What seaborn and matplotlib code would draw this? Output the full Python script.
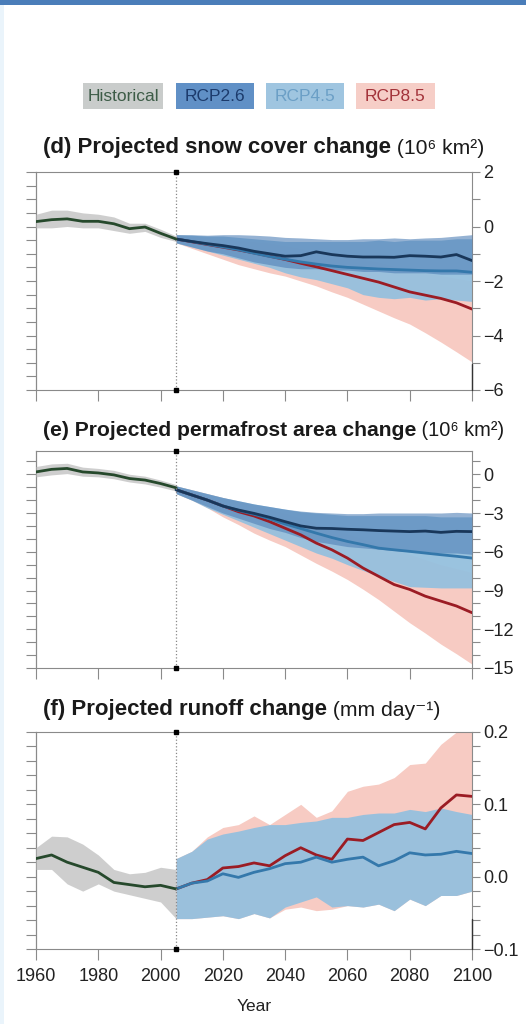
import numpy as np
import pandas as pd
import matplotlib
matplotlib.use("Agg")
import matplotlib.pyplot as plt
from matplotlib import font_manager
from matplotlib.patches import Rectangle
from matplotlib.ticker import MultipleLocator
import seaborn as sns

# ---------------- data ----------------
hist_years = list(range(1960, 2006, 5))
fut_years = list(range(2005, 2101, 5))

# (d) snow cover change (10^6 km^2)
snow_hist = [0.18, 0.25, 0.28, 0.19, 0.19, 0.10, -0.08, -0.02, -0.25, -0.46]
snow_hist_hi = [0.45, 0.60, 0.60, 0.50, 0.45, 0.35, 0.12, 0.12, -0.10, -0.35]
snow_hist_lo = [-0.05, -0.05, 0.00, -0.05, -0.05, -0.15, -0.25, -0.18, -0.40, -0.55]
snow_26 = [-0.46, -0.55, -0.63, -0.70, -0.79, -0.91, -1.00, -1.09, -1.07, -0.93,
           -1.03, -1.09, -1.12, -1.12, -1.13, -1.07, -1.09, -1.12, -1.03, -1.25]
snow_26_hi = [-0.30, -0.30, -0.32, -0.30, -0.30, -0.32, -0.35, -0.40, -0.42, -0.45,
              -0.48, -0.48, -0.45, -0.45, -0.42, -0.45, -0.42, -0.40, -0.35, -0.30]
snow_26_lo = [-0.60, -0.75, -0.90, -1.00, -1.15, -1.30, -1.40, -1.50, -1.55, -1.55,
              -1.60, -1.60, -1.65, -1.65, -1.70, -1.70, -1.70, -1.75, -1.75, -1.75]
snow_45 = [-0.46, -0.55, -0.65, -0.75, -0.85, -0.98, -1.10, -1.20, -1.30, -1.38,
           -1.45, -1.50, -1.53, -1.56, -1.58, -1.60, -1.62, -1.63, -1.63, -1.68]
snow_45_hi = [-0.30, -0.32, -0.35, -0.35, -0.40, -0.45, -0.50, -0.55, -0.55, -0.55,
              -0.55, -0.55, -0.55, -0.50, -0.55, -0.50, -0.50, -0.50, -0.45, -0.45]
snow_45_lo = [-0.60, -0.75, -0.90, -1.05, -1.20, -1.35, -1.50, -1.70, -1.85, -1.95,
              -2.10, -2.25, -2.50, -2.60, -2.65, -2.60, -2.70, -2.65, -2.70, -2.75]
snow_85 = [-0.46, -0.56, -0.66, -0.76, -0.86, -0.97, -1.09, -1.21, -1.35, -1.48,
           -1.62, -1.76, -1.90, -2.04, -2.22, -2.40, -2.52, -2.64, -2.80, -3.03]
snow_85_hi = [-0.30, -0.35, -0.40, -0.45, -0.50, -0.55, -0.60, -0.70, -0.80, -0.90,
              -1.00, -1.10, -1.20, -1.30, -1.45, -1.60, -1.70, -1.80, -1.90, -2.00]
snow_85_lo = [-0.60, -0.80, -1.00, -1.20, -1.40, -1.55, -1.70, -1.82, -2.00, -2.18,
              -2.40, -2.60, -2.85, -3.10, -3.35, -3.58, -3.90, -4.24, -4.60, -4.97]

# (e) permafrost area change (10^6 km^2)
perm_hist = [0.18, 0.38, 0.45, 0.18, 0.10, -0.05, -0.33, -0.45, -0.72, -1.05]
perm_hist_hi = [0.60, 0.80, 0.85, 0.55, 0.45, 0.30, 0.00, -0.15, -0.45, -0.80]
perm_hist_lo = [-0.20, -0.05, 0.05, -0.15, -0.20, -0.35, -0.60, -0.75, -1.00, -1.30]
perm_26 = [-1.20, -1.60, -2.00, -2.46, -2.77, -3.03, -3.33, -3.67, -4.00, -4.18,
           -4.20, -4.26, -4.30, -4.36, -4.40, -4.44, -4.40, -4.50, -4.42, -4.44]
perm_26_hi = [-0.90, -1.20, -1.50, -1.80, -2.05, -2.30, -2.50, -2.70, -2.85, -2.95,
              -3.00, -3.05, -3.05, -3.00, -3.00, -3.00, -3.00, -3.00, -2.95, -3.00]
perm_26_lo = [-1.50, -2.00, -2.50, -3.00, -3.40, -3.80, -4.20, -4.50, -4.90, -5.20,
              -5.40, -5.60, -5.70, -5.80, -5.90, -6.00, -6.00, -6.10, -6.10, -6.20]
perm_45 = [-1.20, -1.60, -2.00, -2.45, -2.80, -3.10, -3.45, -3.85, -4.20, -4.56,
           -4.90, -5.20, -5.45, -5.72, -5.85, -5.97, -6.10, -6.23, -6.35, -6.49]
perm_45_hi = [-0.90, -1.20, -1.50, -1.80, -2.05, -2.30, -2.50, -2.70, -2.90, -3.00,
              -3.10, -3.20, -3.20, -3.20, -3.20, -3.20, -3.20, -3.30, -3.30, -3.30]
perm_45_lo = [-1.50, -2.00, -2.60, -3.10, -3.60, -4.10, -4.60, -5.10, -5.60, -6.10,
              -6.50, -7.00, -7.45, -7.90, -8.30, -8.70, -8.75, -8.80, -8.80, -8.80]
perm_85 = [-1.20, -1.60, -2.00, -2.45, -2.90, -3.23, -3.67, -4.18, -4.69, -5.33,
           -5.85, -6.49, -7.26, -7.90, -8.54, -8.92, -9.44, -9.82, -10.20, -10.72]
perm_85_hi = [-0.90, -1.20, -1.50, -1.80, -2.10, -2.40, -2.70, -3.00, -3.40, -3.80,
              -4.20, -4.60, -5.00, -5.40, -5.80, -6.20, -6.60, -7.00, -7.30, -7.60]
perm_85_lo = [-1.50, -2.00, -2.60, -3.30, -3.90, -4.56, -5.10, -5.60, -6.25, -6.90,
              -7.50, -8.15, -8.90, -9.70, -10.60, -11.50, -12.30, -13.15, -13.90, -14.70]

# (f) runoff change (mm day^-1)
run_hist = [0.025, 0.030, 0.020, 0.013, 0.006, -0.008, -0.011, -0.014, -0.012, -0.017]
run_hist_hi = [0.040, 0.056, 0.055, 0.045, 0.030, 0.010, 0.004, 0.006, 0.013, 0.010]
run_hist_lo = [0.010, 0.010, -0.010, -0.020, -0.010, -0.020, -0.025, -0.030, -0.035, -0.058]
run_45 = [-0.017, -0.009, -0.006, 0.004, -0.001, 0.006, 0.011, 0.018, 0.020, 0.027,
          0.020, 0.024, 0.027, 0.015, 0.022, 0.033, 0.030, 0.031, 0.035, 0.032]
run_45_hi = [0.025, 0.035, 0.052, 0.059, 0.063, 0.068, 0.072, 0.072, 0.075, 0.077,
             0.082, 0.082, 0.086, 0.088, 0.088, 0.093, 0.090, 0.095, 0.090, 0.086]
run_45_lo = [-0.058, -0.058, -0.056, -0.054, -0.058, -0.051, -0.057, -0.042, -0.035, -0.028,
             -0.042, -0.040, -0.042, -0.038, -0.047, -0.031, -0.040, -0.026, -0.026, -0.020]
run_85 = [-0.017, -0.009, -0.004, 0.012, 0.014, 0.019, 0.015, 0.029, 0.040, 0.030,
          0.024, 0.052, 0.050, 0.061, 0.072, 0.075, 0.066, 0.095, 0.113, 0.111]
run_85_hi = [0.025, 0.035, 0.055, 0.068, 0.072, 0.084, 0.072, 0.086, 0.100, 0.082,
             0.091, 0.118, 0.125, 0.128, 0.137, 0.155, 0.157, 0.183, 0.200, 0.205]
run_85_lo = [-0.058, -0.058, -0.056, -0.054, -0.058, -0.051, -0.057, -0.045, -0.042, -0.047,
             -0.045, -0.040, -0.042, -0.038, -0.047, -0.031, -0.040, -0.026, -0.026, -0.020]

legend_labels = ["Historical", "RCP2.6", "RCP4.5", "RCP8.5"]
x_ticks = [1960, 1980, 2000, 2020, 2040, 2060, 2080, 2100]

# ---------------- style ----------------
sns.set_theme(style="white")
avail = {f.name for f in font_manager.fontManager.ttflist}
base_font = "Liberation Sans Narrow" if "Liberation Sans Narrow" in avail else "Liberation Sans"
plt.rcParams["font.family"] = [base_font, "DejaVu Sans"]

C_HIST_BAND = "#c6c6c6"
C_HIST_LINE = "#26492c"
C_26_BAND = "#4f80b6"
C_26_LINE = "#19375a"
C_45_BAND = "#95c0de"
C_45_LINE = "#3478ab"
C_85_BAND = "#f7cbc3"
C_85_LINE = "#9b1c24"
GRID = "#8a8a8a"

fig = plt.figure(figsize=(5.26, 10.24), dpi=100)

# decoration: top bar and left strip
fig.patches.append(Rectangle((0, 1 - 5 / 1024), 1, 5 / 1024, transform=fig.transFigure,
                             facecolor="#4a7db9", edgecolor="none", zorder=0))
fig.patches.append(Rectangle((0, 0), 4 / 526, 1 - 5 / 1024, transform=fig.transFigure,
                             facecolor="#eaf4fb", edgecolor="none", zorder=0))

# legend boxes
leg_boxes = [(83, 163, "#c9cccb", "#3d5c47"), (176, 254, "#6090c6", "#1c3b6c"),
             (266, 344, "#9fc5e0", "#6b9fc6"), (356, 435, "#f6cec7", "#a3333a")]
for lab, (x0, x1, fc, tc) in zip(legend_labels, leg_boxes):
    fig.patches.append(Rectangle((x0 / 526, 1 - 109 / 1024), (x1 - x0) / 526, 26 / 1024,
                                 transform=fig.transFigure, facecolor=fc, edgecolor="none"))
    fig.text((x0 + x1) / 2 / 526, 1 - 96.5 / 1024, lab, ha="center", va="center",
             fontsize=12.5, color=tc)

L, R = 36 / 526, 472 / 526
panels = [
    dict(top=172, bot=390, ylim=(-6, 2), major=2, rminor=1, lminor=0.5,
         title="(d) Projected snow cover change", unit=" (10\u2076 km\u00b2)", ty=148, fs=16,
         hist=(snow_hist, snow_hist_lo, snow_hist_hi),
         r26=(snow_26, snow_26_lo, snow_26_hi), r45=(snow_45, snow_45_lo, snow_45_hi),
         r85=(snow_85, snow_85_lo, snow_85_hi), accent=0.12),
    dict(top=451, bot=668, ylim=(-15, 1.8), major=3, rminor=1, lminor=1,
         title="(e) Projected permafrost area change", unit=" (10\u2076 km\u00b2)", ty=430, fs=15.2,
         hist=(perm_hist, perm_hist_lo, perm_hist_hi),
         r26=(perm_26, perm_26_lo, perm_26_hi), r45=(perm_45, perm_45_lo, perm_45_hi),
         r85=(perm_85, perm_85_lo, perm_85_hi), accent=None),
    dict(top=732, bot=949, ylim=(-0.1, 0.2), major=0.1, rminor=0.02, lminor=0.02,
         title="(f) Projected runoff change", unit=" (mm day\u207b\u00b9)", ty=710, fs=16,
         hist=(run_hist, run_hist_lo, run_hist_hi),
         r26=None, r45=(run_45, run_45_lo, run_45_hi),
         r85=(run_85, run_85_lo, run_85_hi), accent=0.14),
]

for i, p in enumerate(panels):
    ax = fig.add_axes([L, 1 - p["bot"] / 1024, R - L, (p["bot"] - p["top"]) / 1024])
    hy = np.array(hist_years)
    fy = np.array(fut_years)

    # bands
    m, lo, hi = p["r85"]
    ax.fill_between(fy, lo, hi, color=C_85_BAND, lw=0, zorder=1)
    m, lo, hi = p["r45"]
    ax.fill_between(fy, lo, hi, color=C_45_BAND, lw=0, alpha=0.95, zorder=2)
    if p["r26"] is not None:
        m, lo, hi = p["r26"]
        ax.fill_between(fy, lo, hi, color=C_26_BAND, lw=0, alpha=0.6, zorder=3)
    m, lo, hi = p["hist"]
    ax.fill_between(hy, lo, hi, color=C_HIST_BAND, lw=0, alpha=0.85, zorder=3)

    # lines
    sns.lineplot(x=fy, y=p["r85"][0], ax=ax, color=C_85_LINE, lw=2.0, zorder=5)
    sns.lineplot(x=fy, y=p["r45"][0], ax=ax, color=C_45_LINE, lw=2.0, zorder=6)
    if p["r26"] is not None:
        sns.lineplot(x=fy, y=p["r26"][0], ax=ax, color=C_26_LINE, lw=2.0, zorder=7)
    sns.lineplot(x=hy, y=p["hist"][0], ax=ax, color=C_HIST_LINE, lw=2.0, zorder=7)

    ax.set_xlim(1960, 2100)
    ax.set_ylim(*p["ylim"])

    # 2005 divider
    ax.axvline(2005, color="#888888", ls=":", lw=0.9, zorder=8)
    ax.plot([2005, 2005], [0, 1], transform=ax.get_xaxis_transform(), ls="none",
            marker="s", ms=2.2, color="black", clip_on=False, zorder=9)

    for s in ax.spines.values():
        s.set_color(GRID)
        s.set_linewidth(0.8)
        s.set_visible(True)
    if p["accent"]:
        ax.plot([1, 1], [0, p["accent"]], transform=ax.transAxes, color="#333333",
                lw=1.0, clip_on=False, zorder=9)

    # ticks
    ax.yaxis.tick_right()
    ax.yaxis.set_major_locator(MultipleLocator(p["major"]))
    ax.yaxis.set_minor_locator(MultipleLocator(p["rminor"]))
    ax.tick_params(axis="y", which="both", direction="out", length=6, width=0.8,
                   color=GRID, labelsize=13, pad=2, labelcolor="#222222")
    ax.tick_params(axis="y", which="minor", length=6)
    ax.set_xticks(x_ticks)
    ax.tick_params(axis="x", direction="out", length=8, width=0.8, color=GRID,
                   labelsize=13, pad=6, labelcolor="#222222", bottom=True)
    if i < 2:
        ax.set_xticklabels([])
        ax.set_xlabel("")
    else:
        ax.set_xlabel("Year", fontsize=12.5, color="#222222", labelpad=10)
    ax.set_ylabel("")

    sec = ax.secondary_yaxis("left")
    sec.yaxis.set_major_locator(MultipleLocator(p["lminor"]))
    sec.tick_params(axis="y", direction="out", length=7, width=0.8, color=GRID,
                    labelleft=False)
    sec.spines["left"].set_color(GRID)
    sec.spines["left"].set_linewidth(0.8)

    # title (bold part + regular unit part)
    t = fig.text(43 / 526, 1 - p["ty"] / 1024, p["title"], ha="left", va="center",
                 fontsize=p["fs"], fontweight="bold", color="#1a1a1a")
    ax.annotate(p["unit"], xy=(1, 0), xycoords=t, va="bottom", ha="left",
                fontsize=p["fs"] - 0.8, color="#1a1a1a", annotation_clip=False)

fig.savefig("out.png", dpi=100)
